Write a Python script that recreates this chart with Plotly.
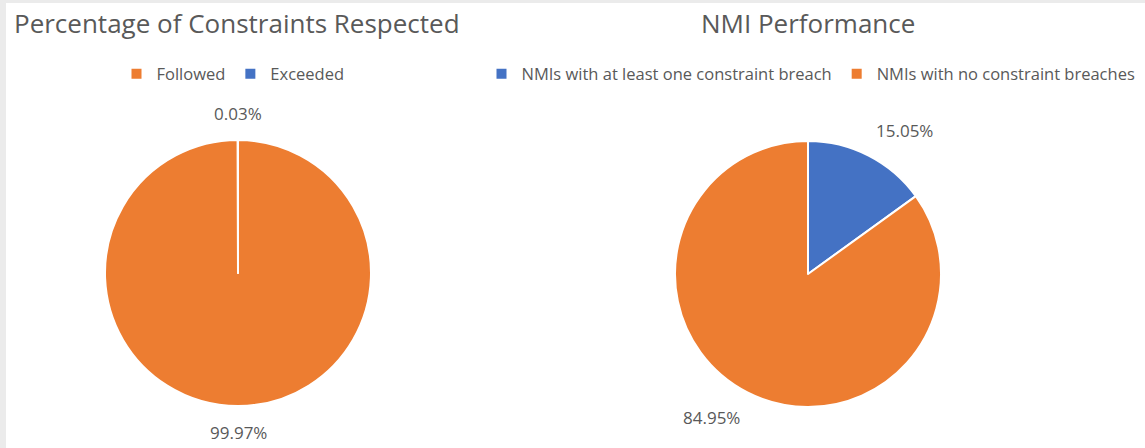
import math
import plotly.graph_objects as go

# ---- data ----
left_title = "Percentage of Constraints Respected"
left_labels = ["Followed", "Exceeded"]
left_values = [99.97, 0.03]

right_title = "NMI Performance"
right_labels = ["NMIs with at least one constraint breach", "NMIs with no constraint breaches"]
right_values = [15.05, 84.95]

ORANGE = "#ED7D31"
BLUE = "#4472C4"
TEXT = "#595959"
FONT = "Open Sans"

W, H = 1145, 448


def px_x(v):
    return v / W


def px_y(v):
    return 1 - v / H


R = 133
GAP = 13
lc = (238, 273)
rc = (808, 274)

fig = go.Figure()


def add_pie(labels, values, colors, center, legend):
    cx, cy = center
    fig.add_trace(go.Pie(
        labels=labels, values=values,
        marker=dict(colors=colors, line=dict(color="white", width=2)),
        sort=False, direction="clockwise", rotation=0,
        textinfo="none",
        domain=dict(x=[px_x(cx - R), px_x(cx + R)], y=[px_y(cy + R), px_y(cy - R)]),
        legend=legend, hoverinfo="label+percent",
    ))
    # outside-end data labels (Excel style), placed at each slice's mid angle
    total = sum(values)
    start = 0.0
    anns = []
    for v in values:
        frac = v / total
        mid = (start + frac / 2) * 2 * math.pi
        start += frac
        s, c = math.sin(mid), math.cos(mid)
        x = cx + (R + GAP) * s
        y = cy - (R + GAP) * c
        xa = "center" if abs(s) < 0.3 else ("left" if s > 0 else "right")
        ya = "middle" if abs(c) < 0.3 else ("bottom" if c > 0 else "top")
        anns.append(dict(text=f"{frac * 100:.2f}%", x=px_x(x), y=px_y(y),
                         xanchor=xa, yanchor=ya, xref="paper", yref="paper",
                         showarrow=False,
                         font=dict(family=FONT, size=17, color=TEXT)))
    return anns


annotations = []
annotations += add_pie(left_labels, left_values, [ORANGE, BLUE], lc, "legend")
annotations += add_pie(right_labels, right_values, [BLUE, ORANGE], rc, "legend2")

annotations += [
    dict(text=left_title, x=px_x(12), xanchor="left", y=px_y(23), yanchor="middle",
         xref="paper", yref="paper", showarrow=False,
         font=dict(family=FONT, size=26, color=TEXT)),
    dict(text=right_title, x=px_x(808), xanchor="center", y=px_y(23), yanchor="middle",
         xref="paper", yref="paper", showarrow=False,
         font=dict(family=FONT, size=26, color=TEXT)),
]

fig.update_layout(
    width=W, height=H,
    margin=dict(l=0, r=0, t=0, b=0),
    paper_bgcolor="white", plot_bgcolor="white",
    font=dict(family=FONT, color=TEXT),
    legend=dict(orientation="h", x=px_x(233), xanchor="center", y=px_y(74), yanchor="middle",
                font=dict(family=FONT, size=16.5, color=TEXT), traceorder="normal"),
    legend2=dict(orientation="h", x=px_x(811), xanchor="center", y=px_y(74), yanchor="middle",
                 font=dict(family=FONT, size=16.5, color=TEXT), traceorder="normal"),
    annotations=annotations,
    shapes=[
        dict(type="rect", xref="paper", yref="paper", x0=0, x1=px_x(6), y0=0, y1=1,
             fillcolor="#ebebeb", line=dict(width=0), layer="below"),
        dict(type="rect", xref="paper", yref="paper", x0=0, x1=1, y0=px_y(3), y1=1,
             fillcolor="#ebebeb", line=dict(width=0), layer="below"),
    ],
)

fig.write_html("out.html")
